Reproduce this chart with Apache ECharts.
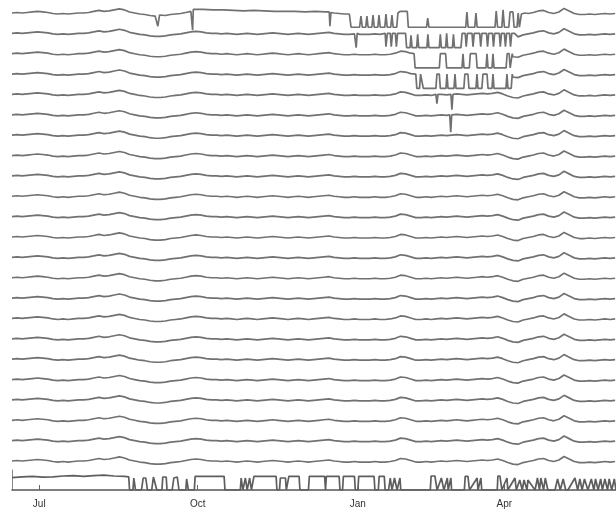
<!DOCTYPE html>
<html><head><meta charset="utf-8">
<script src="https://cdn.jsdelivr.net/npm/echarts@6/dist/echarts.min.js"></script>
<style>html,body{margin:0;padding:0;background:#fff}#c{width:616px;height:515px}</style>
</head><body><div id="c"></div>
<script>
// x values are days since 16 June
const tickDays = [16, 109, 203, 289];
const tickLabels = ['Jul', 'Oct', 'Jan', 'Apr'];
const sampleStep = 3;
// shared seasonal trace (anomaly) sampled every 3 days
const commonTrace = [0,0.5,0,0.5,1,1.5,1,0.5,-0.5,-1,-0.5,-1,-0.5,0,0,0.5,1.5,2.5,1.5,2,3,4,3,1,0,-1,-1.5,-2.5,-3,-3,-2.5,-1.5,-1,-0.5,0.5,1.5,2,1.5,0.5,0,0,-0.5,0,-0.5,-1,-0.5,0,-0.5,-1,-0.5,0,0.5,0,-0.5,-1,-0.5,0,-0.5,-1,-0.5,0,0.5,1,0,-0.5,-1,-1,-0.5,-1,-1,-1,-0.5,-1,-1,-0.5,0.5,2.5,2,0.5,-1,-1,-0.5,-1,-0.5,0,-0.5,0,0.5,0,-0.5,0,0.5,1,0.5,1,2,0.5,-1.5,-3,-3.5,-1.5,-0.5,0.5,2,2.5,0.5,-0.5,1,4.5,2,-0.5,-1.5,-1.5,-1,-1.5,-1,-0.5,-1,-0.5];
// sensor levels (23 traces)
const sensorLevels = [0,-20,-40,-60,-80,-100,-120,-140,-160,-180,-200,-220,-240,-260,-280,-300,-320,-340,-360,-380,-400,-420,-440];
// event segments per trace: [day, anomaly]
const line1Events = [
  [[84.5,-1.5],[85.6,-13],[86.6,-2]],
  [[105.5,0.5],[106,-17],[106.4,3.5],[112,3.5],[118,3],[124,3],[130,2.5],[136,2],[142,2.5],[148,2],[154,1.5],[160,1.5],[166,1.5],[172,1],[178,1.5],[184,1],[186.2,1],[186.6,-13],[187.2,0.5]],
  [[198.5,0],[199,-14],[204,-14],[204.8,-3],[205.6,-14],[207.6,-14],[208.3,-3],[209,-14],[211.2,-14],[211.9,-2],[212.6,-14],[214.7,-14],[215.4,-2],[216.1,-14],[218.8,-14],[219.5,-1],[220.2,-14],[222.3,-14],[223,-2],[223.7,-14],[225.8,-14],[226.5,0],[227.7,1.5],[232,1.5],[232.6,-14],[243.3,-14],[244,-5],[244.7,-14],[266.3,-14],[267,1],[267.7,-14],[271.6,-14],[272.3,0],[273,-14],[283.5,-14],[284.2,2],[285,-14],[287.5,-14],[288.2,3],[289,-14],[291.6,-14],[292.3,1],[294,1],[294.7,-14],[296.4,-14],[297.1,0],[297.8,-14],[298.3,-14],[299,-1],[301,0]]
];
const line2Events = [
  [[201.4,0],[202,-14],[202.6,0]],
  [[219,0],[219.5,-13],[220.3,0],[222,0],[222.6,-13],[223.3,0],[225,0],[225.6,-13],[226.3,0],[231,0],[231.6,-14],[233.6,-14],[234.2,-2],[234.8,-14],[237.5,-14],[238.1,-1],[238.7,-14],[243.5,-14],[244.1,-1],[244.7,-14],[250.8,-14],[251.4,-1],[252,-14],[254.5,-14],[255.1,0],[255.7,-14],[258.5,-14],[259.1,-1],[259.7,-14],[263.5,-14],[264.2,0],[266,0],[266.6,-13],[267.3,0],[270,0],[270.6,-13],[271.3,0],[274.5,0],[275.1,-13],[275.8,0],[278.5,0],[279.1,-13],[279.8,0],[282,0],[282.6,-13],[283.3,0],[286,0],[286.6,-13],[287.3,0],[289,0],[289.6,-13],[290.3,0],[292,0],[292.6,-13],[293.3,0],[295,0]]
];
const line3Events = [
  [[236,0],[236.6,-14],[250.8,-14],[251.4,0],[254.5,0],[255.1,-14],[264.1,-14],[264.7,0],[265.3,-14],[268.4,-14],[269,0],[272.4,0],[273,-14],[278.2,-14],[278.8,0],[279.4,-14],[281.7,-14],[282.3,0],[282.9,-14],[290,-14],[290.6,0],[291.8,0],[292.4,-14],[293,-14],[293.6,0]]
];
const line4Events = [
  [[237,0],[237.6,-14],[239.2,-14],[239.8,0],[240.8,0],[241.4,-14],[248.8,-14],[249.4,0],[250.8,0],[251.4,-14],[254.7,-14],[255.3,0],[255.9,-14],[259.4,-14],[260,0],[260.6,-14],[265.2,-14],[265.8,0],[267.6,0],[268.2,-14],[272.3,-14],[272.9,0],[273.5,-14],[275.8,-14],[276.4,0],[278.8,0],[279.4,-14],[281.7,-14],[282.3,0],[282.9,-14],[289.9,-14],[290.5,0],[291.1,-14],[293,-14],[293.6,0]]
];
const line5Events = [
  [[248.8,0],[249.4,-9],[250,0]],
  [[257.6,0],[258.2,-15],[258.8,0]]
];
const line6Events = [
  [[256.9,0],[257.5,-17],[258.1,0]]
];
// bottom indicator band: [day, value]
const bandDays = [0,6,12,18,24,30,36,42,48,54,60,66,68.5,69,71,71.5,72.5,76,77,78.5,79.5,82,83,85,88,88.5,90.5,91,94,95,97,98,102,102.5,103.5,107,107.5,124.5,125,134,134.5,135.5,137,138,139.5,140.5,141.5,142,155,155.5,157,157.5,160.5,161,162,162.5,168.5,169,174,174.5,183.5,184,184.5,192,192.5,194,194.5,201,201.5,203,203.5,212.5,213,215,215.5,218.5,219,221,222,223,224.5,226,227.7,228.2,245.5,246,248.2,249.5,250.5,252,253.5,255.5,256,257.6,258,265.5,266,267.6,268.5,269.5,273,273.5,275.2,275.7,284.8,285.2,286.4,287.5,288.5,290.5,291,295.2,296,297,298,299.5,300.5,302.3,302.8,307,307.6,308.4,309.6,310.4,312,313,314.5,318.7,320.2,321.8,323.5,325,326.3,330.4,332,333.3,334.6,336,338,340,341.5,342.5,344,345.5,346.5,348,349.5,350.5,352,353.5,354.5];
const bandValues = [0.62,0.66,0.68,0.64,0.66,0.7,0.72,0.68,0.72,0.74,0.7,0.68,0.66,0,0,0.6,0,0,0.6,0.6,0,0,0.65,0,0,0.65,0.65,0,0,0.6,0.65,0,0,0.55,0,0,0.68,0.68,0,0,0.6,0,0.6,0,0.6,0,0,0.68,0.68,0,0,0.6,0.6,0,0,0.68,0.68,0,0,0.68,0.68,0,0.68,0.68,0,0,0.68,0.68,0,0,0.68,0.68,0,0,0.68,0.68,0,0,0.6,0,0.6,0,0.6,0,0,0.7,0.7,0,0,0.6,0,0.6,0,0.6,0,0,0.68,0.68,0,0,0.6,0,0.6,0,0,0.7,0.7,0,0,0.6,0,0.6,0,0,0.5,0,0.5,0,0.5,0,0,0.6,0,0.6,0,0.6,0,0,0.55,0,0.55,0,0,0.6,0,0.55,0,0.55,0,0.55,0,0.55,0,0.55,0,0.55,0,0.55,0,0.55,0,0.5];

const eventsByLine = [line1Events, line2Events, line3Events, line4Events, line5Events, line6Events];

function buildTrace(level, groups) {
  let pts = commonTrace.map((v, i) => [i * sampleStep, v]);
  (groups || []).forEach(g => {
    const a = g[0][0], b = g[g.length - 1][0];
    pts = pts.filter(p => p[0] < a || p[0] > b).concat(g);
  });
  pts.sort((p, q) => p[0] - q[0]);
  return pts.map(p => [p[0], level + p[1]]);
}

const lineColor = '#717171';
const series = sensorLevels.map((lv, k) => ({
  type: 'line', xAxisIndex: 0, yAxisIndex: 0, showSymbol: false, silent: true,
  lineStyle: { color: lineColor, width: 1.7 },
  data: buildTrace(lv, eventsByLine[k])
}));
series.push({
  type: 'line', xAxisIndex: 1, yAxisIndex: 1, showSymbol: false, silent: true,
  lineStyle: { color: '#5e5e5e', width: 1.7 },
  data: bandDays.map((d, i) => [d, bandValues[i]])
});

const chart = echarts.init(document.getElementById('c'), null, { renderer: 'canvas' });
chart.setOption({
  animation: false,
  backgroundColor: '#fff',
  grid: [
    { left: 12, right: 0, top: 2.8, height: 468.4 },
    { left: 12, right: 0, top: 470, height: 20 }
  ],
  xAxis: [
    { gridIndex: 0, type: 'value', min: 0, max: 354.5, show: false },
    { gridIndex: 1, type: 'value', min: 0, max: 354.5,
      axisLine: { show: true, lineStyle: { color: '#555', width: 1.5 } },
      splitLine: { show: false },
      axisTick: { show: true, inside: true, length: 5, customValues: tickDays, lineStyle: { color: '#666' } },
      axisLabel: { customValues: tickDays, margin: 9, color: '#333', fontSize: 10, fontFamily: 'Liberation Sans, Arial, sans-serif',
        formatter: v => tickLabels[tickDays.indexOf(v)] || '' } }
  ],
  yAxis: [
    { gridIndex: 0, type: 'value', min: -450, max: 10, show: false },
    { gridIndex: 1, type: 'value', min: 0, max: 1,
      axisLine: { show: true, lineStyle: { color: '#888', width: 1 } },
      axisLabel: { show: false }, axisTick: { show: false }, splitLine: { show: false } }
  ],
  series: series
});
</script>
</body></html>
